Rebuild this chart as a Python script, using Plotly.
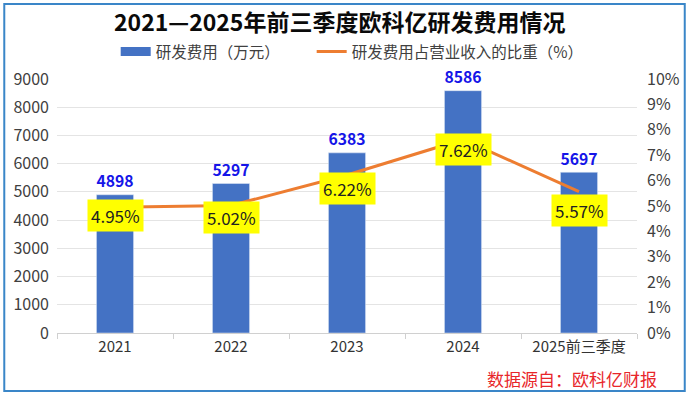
import plotly.graph_objects as go

categories = ["2021", "2022", "2023", "2024", "2025前三季度"]
rd_expense = [4898, 5297, 6383, 8586, 5697]
rd_ratio = [4.95, 5.02, 6.22, 7.62, 5.57]
left_ticks = [0, 1000, 2000, 3000, 4000, 5000, 6000, 7000, 8000, 9000]
right_ticks = [0, 1, 2, 3, 4, 5, 6, 7, 8, 9, 10]
label_shift = [-8, -12, -13, -10, -19]  # pixel offsets of ratio labels

FONT = "Noto Sans CJK SC"
W, H = 692, 397
ml, mr, mt, mb = 57, 52, 79, 64
pw, ph = W - ml - mr, H - mt - mb

BAR_NAME = "研发费用（万元）"
LINE_NAME = "研发费用占营业收入的比重（%）"

fig = go.Figure()
fig.add_trace(go.Bar(
    x=categories, y=rd_expense, name=BAR_NAME, showlegend=False,
    marker_color="#4472C4", width=0.32,
    text=[str(v) for v in rd_expense], textposition="outside",
    textfont=dict(color="#1515E8", size=18, family=FONT, weight="bold"),
    cliponaxis=False,
))
fig.add_trace(go.Scatter(
    x=categories, y=rd_ratio, name=LINE_NAME, showlegend=False,
    yaxis="y2", mode="lines", line=dict(color="#ED7D31", width=3),
))
# legend entries
fig.add_trace(go.Scatter(x=[None], y=[None], name=BAR_NAME, mode="lines",
                         line=dict(color="#4472C4", width=9), legend="legend"))
fig.add_trace(go.Scatter(x=[None], y=[None], name=LINE_NAME, mode="lines",
                         line=dict(color="#ED7D31", width=3), legend="legend2"))

for i, v in enumerate(rd_ratio):
    fig.add_annotation(
        x=i, y=v, xref="x", yref="y2", text=f"{v:.2f}%", showarrow=False,
        bgcolor="#FFFF00", borderpad=3, yshift=label_shift[i],
        font=dict(size=17, color="#222222", family=FONT),
    )

fig.add_annotation(
    xref="paper", yref="paper", x=(341 - ml) / pw, y=(H - mb - 21) / ph,
    text="<b>2021—2025年前三季度欧科亿研发费用情况</b>", showarrow=False,
    font=dict(size=23, color="#0A0A0A", family=FONT), xanchor="center", yanchor="middle",
)
fig.add_annotation(
    xref="paper", yref="paper", x=(662 - ml) / pw, y=(H - mb - 378) / ph,
    text="数据源自：欧科亿财报", showarrow=False,
    font=dict(size=17, color="#E8262A", family=FONT), xanchor="right", yanchor="middle",
)
fig.add_shape(
    type="rect", xref="paper", yref="paper",
    x0=(4 - ml) / pw, x1=(688 - ml) / pw,
    y0=(H - mb - 391) / ph, y1=(H - mb - 4) / ph,
    line=dict(color="#3A86C8", width=2), fillcolor="rgba(0,0,0,0)", layer="below",
)

legend_common = dict(orientation="h", xanchor="left", yanchor="middle",
                     y=(H - mb - 52) / ph, font=dict(size=15.5, color="#404040"),
                     bgcolor="rgba(0,0,0,0)")
fig.update_layout(
    width=W, height=H, margin=dict(l=ml, r=mr, t=mt, b=mb),
    paper_bgcolor="white", plot_bgcolor="white",
    font=dict(family=FONT, color="#404040", size=14),
    showlegend=True,
    legend=dict(x=(116 - ml) / pw, **legend_common),
    legend2=dict(x=(313 - ml) / pw, **legend_common),
    xaxis=dict(type="category", categoryorder="array", categoryarray=categories,
               range=[-0.5, 4.5], autorange=False,
               showline=True, linecolor="#D0D0D0", ticks="outside",
               tickson="boundaries", tickcolor="#D0D0D0", ticklen=5, tickangle=0,
               tickfont=dict(size=15, color="#333333"), showgrid=False),
    yaxis=dict(range=[0, 9000], tickvals=left_ticks, showgrid=True, gridcolor="#E4E4E4",
               zeroline=False, tickfont=dict(size=16, color="#404040"), ticklabelstandoff=7),
    yaxis2=dict(range=[0, 10], tickvals=right_ticks, ticktext=[f"{t}%" for t in right_ticks],
                overlaying="y", side="right", showgrid=False, zeroline=False,
                tickfont=dict(size=16, color="#404040"), ticklabelstandoff=9),
)

fig.write_html("out.html", config={"displayModeBar": False},
               post_script="document.body.style.margin='0';")
